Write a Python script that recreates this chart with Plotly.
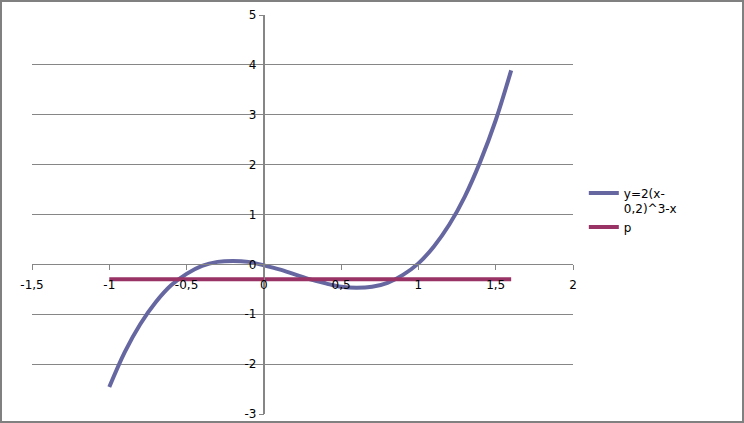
import plotly.graph_objects as go

# Curve y=2(x-0,2)^3-x, values
x_curve = [-1.0, -0.9, -0.8, -0.7, -0.6, -0.5, -0.4, -0.3, -0.2, -0.1, 0.0,
           0.1, 0.2, 0.3, 0.4, 0.5, 0.6, 0.7, 0.8, 0.9, 1.0, 1.1, 1.2, 1.3,
           1.4, 1.5, 1.6]
y_curve = [-2.46, -1.76, -1.20, -0.76, -0.42, -0.19, -0.03, 0.05, 0.07, 0.05,
           -0.02, -0.10, -0.20, -0.30, -0.38, -0.45, -0.47, -0.45, -0.37, -0.21,
           0.02, 0.36, 0.80, 1.36, 2.06, 2.89, 3.89]

# Line p
x_p = [-1.0, 1.6]
y_p = [-0.3, -0.3]

x_ticks = [-1.5, -1, -0.5, 0, 0.5, 1, 1.5, 2]
x_ticktext = ["-1,5", "-1", "-0,5", "0", "0,5", "1", "1,5", "2"]
y_ticks = [-3, -2, -1, 0, 1, 2, 3, 4, 5]
y_ticktext = ["-3", "-2", "-1", "0", "1", "2", "3", "4", "5"]

name_curve = "y=2(x-<br>0,2)^3-x"
name_p = "p"

grid = "#868686"
font = dict(family="DejaVu Sans", size=12, color="#000000")

fig = go.Figure()
fig.add_trace(go.Scatter(x=x_curve, y=y_curve, mode="lines", name=name_curve,
                         line=dict(color="#6667A1", width=4, shape="spline")))
fig.add_trace(go.Scatter(x=x_p, y=y_p, mode="lines", name=name_p,
                         line=dict(color="#993366", width=4)))

W, H = 744, 423
L, R, T, B = 32, 171, 15, 9
pw, ph = W - L - R, H - T - B

fig.update_layout(
    width=W, height=H,
    autosize=False,
    margin=dict(l=L, r=R, t=T, b=B, pad=0, autoexpand=False),
    paper_bgcolor="white", plot_bgcolor="white",
    font=font,
    showlegend=True,
    legend=dict(x=1.02, y=0.59, xanchor="left", yanchor="top", valign="top",
                font=dict(family="DejaVu Sans", size=12, color="#000000"),
                bgcolor="rgba(0,0,0,0)", tracegroupgap=0, itemwidth=30),
    xaxis=dict(range=[-1.5, 2], tickvals=x_ticks, ticktext=x_ticktext,
               showgrid=False, zeroline=True, zerolinecolor=grid, zerolinewidth=1,
               showline=True, linecolor=grid, linewidth=1,
               anchor="free", position=3 / 8, automargin=False,
               ticks="outside", ticklen=5, tickcolor=grid,
               ticklabelstandoff=4,
               fixedrange=True),
    yaxis=dict(range=[-3, 5], tickvals=y_ticks, ticktext=y_ticktext,
               showgrid=True, gridcolor=grid, gridwidth=1,
               zeroline=False,
               showline=True, linecolor=grid, linewidth=1,
               anchor="free", position=1.5 / 3.5, automargin=False,
               ticks="outside", ticklen=5, tickcolor=grid,
               fixedrange=True),
    shapes=[dict(type="rect", xref="paper", yref="paper",
                 x0=-(L - 1) / pw, x1=(pw + R - 1) / pw,
                 y0=-(B - 1) / ph, y1=(ph + T - 1) / ph,
                 line=dict(color="#808080", width=2), layer="below")],
)

fig.write_html("out.html",
               config={"responsive": False, "displayModeBar": False},
               default_width="744px", default_height="423px",
               post_script="document.body.style.margin='0';document.body.style.overflow='hidden';")
